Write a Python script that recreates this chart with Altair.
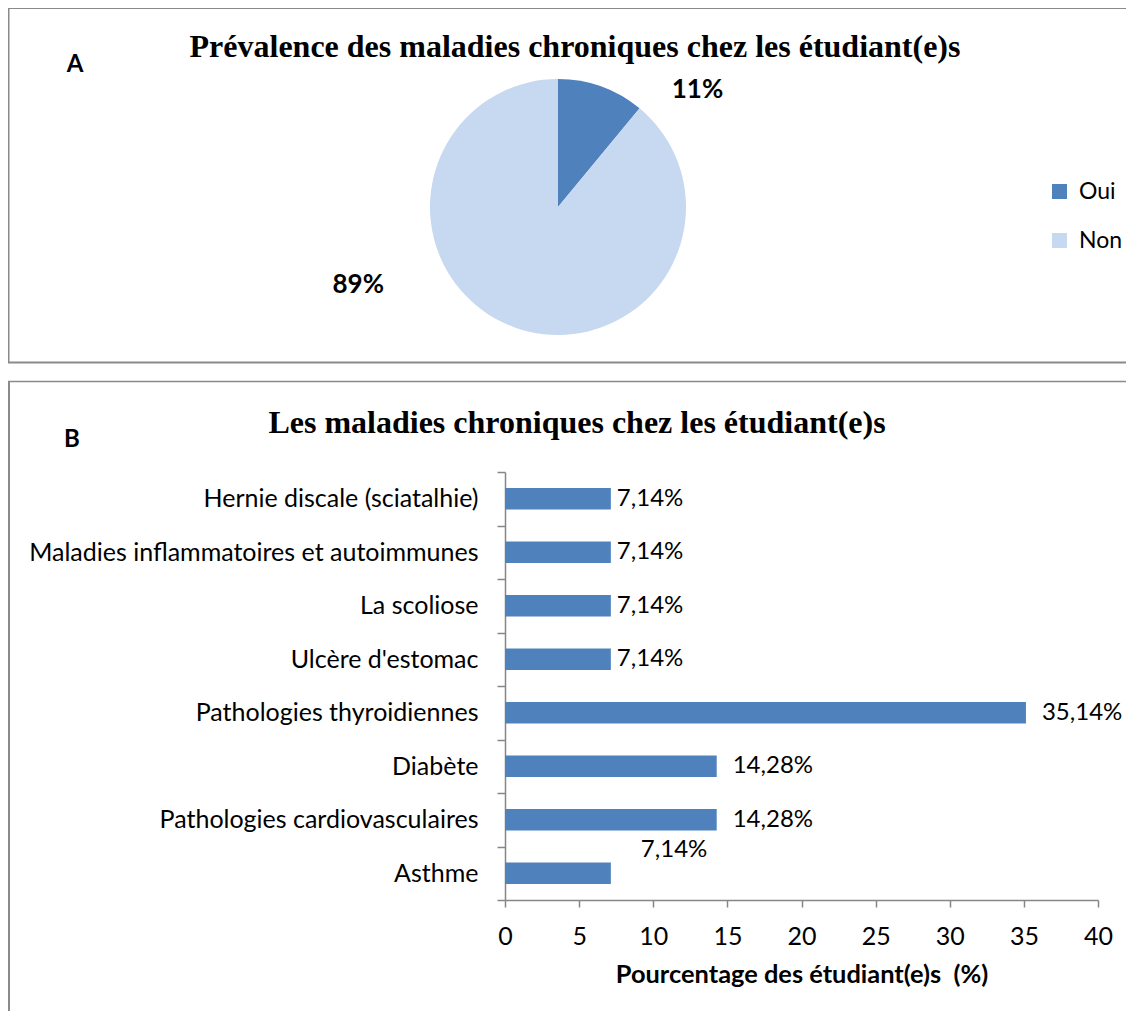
import altair as alt
import pandas as pd

# ---------------- data ----------------
title_a = "Prévalence des maladies chroniques chez les étudiant(e)s"
title_b = "Les maladies chroniques chez les étudiant(e)s"
panel_letters = ["A", "B"]

pie_cats = ["Oui", "Non"]
pie_vals = [11, 89]
pie_order = [0, 1]
pie_colors = ["#4F81BD", "#C6D9F1"]

diseases = [
    "Hernie discale (sciatalhie)",
    "Maladies inflammatoires et autoimmunes",
    "La scoliose",
    "Ulcère d'estomac",
    "Pathologies thyroidiennes",
    "Diabète",
    "Pathologies cardiovasculaires",
    "Asthme",
]
disease_vals = [7.14, 7.14, 7.14, 7.14, 35.14, 14.28, 14.28, 7.14]
x_ticks = [0, 5, 10, 15, 20, 25, 30, 35, 40]
x_title = "Pourcentage des étudiant(e)s \u00a0(%)"

# ---------------- layout constants ----------------
W, H = 1118, 1003
BORDER = "#8a8a8a"
FONT = "Lato"

df_pie = pd.DataFrame({"c": pie_cats, "v": pie_vals, "o": pie_order})
df_bar = pd.DataFrame({"d": diseases, "v": disease_vals})
one = pd.DataFrame({"k": [0]})


def rule(**enc):
    sw = enc.pop("sw", 2)
    return alt.Chart(one).mark_rule(stroke=BORDER, strokeWidth=sw).encode(**enc)


# panel borders (the right side runs off the picture, as in the original)
border_a_top = rule(x=alt.value(0), x2=alt.value(W), y=alt.value(0))
border_a_bottom = rule(x=alt.value(0), x2=alt.value(W), y=alt.value(354.5))
border_a_left = rule(x=alt.value(0.5), y=alt.value(0), y2=alt.value(354.5))
border_b_top = rule(x=alt.value(0), x2=alt.value(W), y=alt.value(373.5), sw=1.5)
border_b_left = rule(x=alt.value(1), y=alt.value(373.5), y2=alt.value(H))

# titles
t_a = alt.Chart(pd.DataFrame({"t": [title_a]})).mark_text(
    font="Liberation Serif", fontWeight="bold", fontSize=32, align="center", baseline="middle"
).encode(x=alt.value(567), y=alt.value(39), text="t:N")
t_b = alt.Chart(pd.DataFrame({"t": [title_b]})).mark_text(
    font="Liberation Serif", fontWeight="bold", fontSize=32, align="center", baseline="middle"
).encode(x=alt.value(569), y=alt.value(415), text="t:N")
l_a = alt.Chart(pd.DataFrame({"t": [panel_letters[0]]})).mark_text(
    font=FONT, fontWeight="bold", fontSize=24, align="center", baseline="middle"
).encode(x=alt.value(67), y=alt.value(57), text="t:N")
l_b = alt.Chart(pd.DataFrame({"t": [panel_letters[1]]})).mark_text(
    font=FONT, fontWeight="bold", fontSize=24, align="center", baseline="middle"
).encode(x=alt.value(64), y=alt.value(432), text="t:N")

# pie
CX, CY = 550, 199
pie = alt.Chart(df_pie).mark_arc(radius=128).encode(
    theta=alt.Theta("v:Q", stack=True),
    order=alt.Order("o:Q"),
    color=alt.Color(
        "c:N",
        scale=alt.Scale(domain=pie_cats, range=pie_colors),
        legend=alt.Legend(
            orient="none", legendX=1040, legendY=172, title=None,
            symbolType="square", symbolSize=225, symbolStrokeWidth=0,
            labelFont=FONT, labelFontSize=23, labelColor="black",
            rowPadding=25, labelOffset=8,
        ),
    ),
    x=alt.value(CX), y=alt.value(CY),
)
# mid-angle of each slice computed before splitting the labels
pie_lbl_base = alt.Chart(df_pie).transform_window(
    cum="sum(v)", sort=[alt.SortField("o")], frame=[None, 0]
).transform_calculate(
    mid="datum.cum - datum.v / 2",
    lbl="format(datum.v, 'd') + '%'",
)
mid_theta = alt.Theta("mid:Q", stack=None)
pie_lbl_oui = pie_lbl_base.transform_filter("datum.c == 'Oui'").mark_text(
    radius=155, dx=87, dy=29, font=FONT, fontWeight="bold", fontSize=26,
    align="center", baseline="middle"
).encode(theta=mid_theta, text="lbl:N", x=alt.value(CX), y=alt.value(CY))
pie_lbl_non = pie_lbl_base.transform_filter("datum.c == 'Non'").mark_text(
    radius=141, dx=-152, dy=-55, font=FONT, fontWeight="bold", fontSize=26,
    align="center", baseline="middle"
).encode(theta=mid_theta, text="lbl:N", x=alt.value(CX), y=alt.value(CY))

# bars
y_enc = alt.Y(
    "d:N", sort=diseases,
    scale=alt.Scale(range=[464, 892], paddingInner=0, paddingOuter=0),
    axis=alt.Axis(
        orient="left", offset=-497, title=None, domainColor="#868686", domainWidth=1.5,
        tickColor="#868686", tickSize=8, tickWidth=1.5, tickBand="extent",
        labelFont=FONT, labelFontSize=25, labelColor="black", labelPadding=19, labelLimit=0,
    ),
)
x_enc = alt.X(
    "v:Q",
    scale=alt.Scale(domain=[0, 40], range=[497, 1090], nice=False),
    axis=alt.Axis(
        orient="bottom", offset=-(H - 892), values=x_ticks, grid=False, labelFlush=False,
        domainColor="#868686", domainWidth=1.5, tickColor="#868686", tickSize=7, tickWidth=1.5,
        labelFont=FONT, labelFontSize=25, labelColor="black", labelPadding=17,
        title=x_title, titleFont=FONT, titleFontWeight="bold", titleFontSize=25.4,
        titleColor="black", titlePadding=13,
    ),
)
bars = alt.Chart(df_bar).mark_bar(color="#4F81BD", height=alt.RelativeBandSize(0.4)).encode(
    y=y_enc, x=x_enc
)
lbl_base = alt.Chart(df_bar).transform_calculate(
    lbl="replace(format(datum.v, '.2f'), '.', ',') + '%'"
)
lbl_small = lbl_base.transform_filter("datum.v < 10 && datum.d != 'Asthme'").mark_text(
    align="left", baseline="middle", dx=6, font=FONT, fontSize=24, color="black"
).encode(y=y_enc, x=x_enc, text="lbl:N")
lbl_large = lbl_base.transform_filter("datum.v >= 10").mark_text(
    align="left", baseline="middle", dx=16, font=FONT, fontSize=24, color="black"
).encode(y=y_enc, x=x_enc, text="lbl:N")
lbl_asthme = lbl_base.transform_filter("datum.d == 'Asthme'").mark_text(
    align="left", baseline="middle", dx=30, dy=-23, font=FONT, fontSize=24, color="black"
).encode(y=y_enc, x=x_enc, text="lbl:N")

chart = alt.layer(
    border_a_top, border_a_bottom, border_a_left, border_b_top, border_b_left,
    t_a, t_b, l_a, l_b,
    pie, pie_lbl_oui, pie_lbl_non,
    bars, lbl_small, lbl_large, lbl_asthme,
).properties(
    width=W, height=H, padding=0, autosize=alt.AutoSizeParams(type="none")
).configure_view(strokeWidth=0)

chart.save("out.html", embed_options={"renderer": "svg", "actions": False})
